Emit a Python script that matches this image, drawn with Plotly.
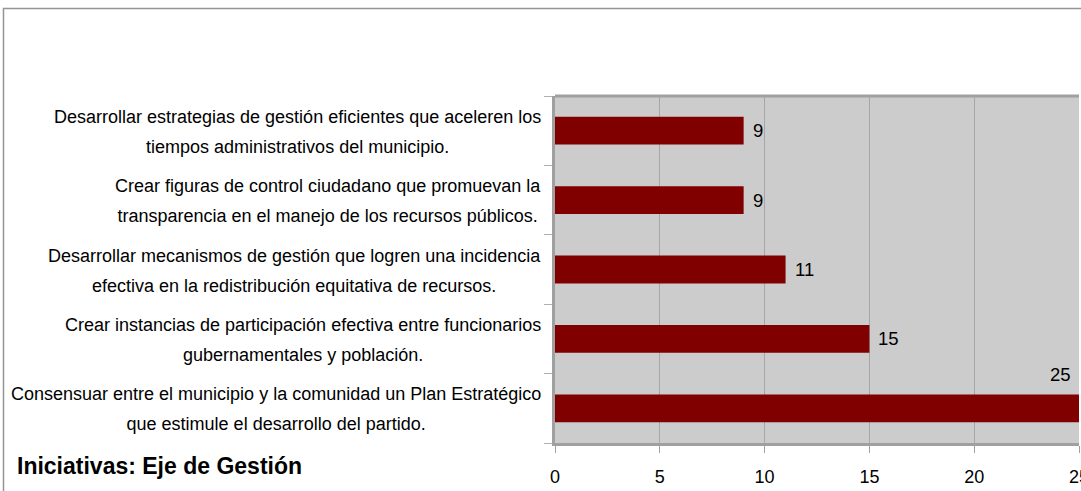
import plotly.graph_objects as go

categories = [
    "Consensuar entre el municipio y la comunidad un Plan Estratégico<br>que estimule el desarrollo del partido.",
    "Crear instancias de participación efectiva entre funcionarios<br>gubernamentales y población.",
    "Desarrollar mecanismos de gestión que logren una incidencia<br>efectiva en la redistribución equitativa de recursos.",
    "Crear figuras de control ciudadano que promuevan la<br>transparencia en el manejo de los recursos públicos.",
    "Desarrollar estrategias de gestión eficientes que aceleren los<br>tiempos administrativos del municipio.",
]
values = [25, 15, 11, 9, 9]
x_ticks = [0, 5, 10, 15, 20, 25]
title_text = "Iniciativas: Eje de Gestión"

W, H = 1081, 491
ML, MR, MT, MB = 555, 2, 96, 48
PW = W - ML - MR
PH = H - MT - MB

FONT = "Liberation Sans, Arial, sans-serif"
XMAX = max(x_ticks)
LABEL_PX = 18


def label_html(text):
    parts = text.split("<br>")
    return "<br>".join(
        "<span style='font-size:%spx'>%s</span>" % (LABEL_PX, p) for p in parts
    )


fig = go.Figure()
fig.add_trace(go.Bar(
    x=values, y=list(range(len(categories))), orientation="h",
    marker=dict(color="#800000", line=dict(width=0)),
    width=0.4, hoverinfo="skip",
))

annotations = []
for i, (c, v) in enumerate(zip(categories, values)):
    annotations.append(dict(
        x=0, xref="paper", xshift=-12, xanchor="right",
        y=i, yref="y", yanchor="middle", yshift=-1,
        text=label_html(c), align="center", showarrow=False,
        font=dict(family=FONT, size=23, color="#000000"),
    ))
    if v >= XMAX:
        annotations.append(dict(
            x=v, xref="x", y=i, yref="y", xanchor="right", xshift=-6,
            yanchor="middle", yshift=34, text=str(v), showarrow=False,
            font=dict(family=FONT, size=18.5, color="#000000"),
        ))
    else:
        annotations.append(dict(
            x=v, xref="x", y=i, yref="y", xanchor="left", xshift=7,
            yanchor="middle", text=str(v), showarrow=False,
            font=dict(family=FONT, size=18.5, color="#000000"),
        ))

annotations.append(dict(
    x=(15 - ML) / PW, xref="paper", xanchor="left",
    y=-(466 - (MT + PH)) / PH, yref="paper", yanchor="middle",
    text="<b>" + title_text + "</b>", showarrow=False,
    font=dict(family=FONT, size=23, color="#000000"),
))

fig.update_layout(
    width=W, height=H,
    margin=dict(l=ML, r=MR, t=MT, b=MB, autoexpand=False),
    paper_bgcolor="#ffffff", plot_bgcolor="#cccccc",
    showlegend=False, bargap=0.6,
    annotations=annotations,
    shapes=[
        dict(type="rect", xref="paper", yref="paper",
             x0=(3.5 - ML) / PW, x1=1.5, y0=-0.5, y1=(MT + PH - 8.5) / PH,
             line=dict(color="#959595", width=1.5), fillcolor="rgba(0,0,0,0)", layer="below"),
        dict(type="line", xref="paper", yref="paper", x0=0, x1=1, y0=1, y1=1,
             line=dict(color="#a0a0a0", width=3)),
    ],
    xaxis=dict(
        range=[0, XMAX], tickvals=x_ticks, ticktext=[str(t) for t in x_ticks],
        showgrid=True, gridcolor="#a6a6a6", gridwidth=1,
        zeroline=False, showline=True, linecolor="#a0a0a0", linewidth=3,
        ticks="outside", ticklen=7, tickcolor="#a0a0a0", tickwidth=1,
        ticklabelstandoff=8, ticklabeloverflow="allow",
        tickfont=dict(family=FONT, size=18, color="#000000"),
        fixedrange=True,
    ),
    yaxis=dict(
        range=[-0.5, len(categories) - 0.5],
        tickvals=[i - 0.5 for i in range(len(categories) + 1)],
        showticklabels=False, showgrid=False, zeroline=False,
        showline=True, linecolor="#a0a0a0", linewidth=3,
        ticks="outside", ticklen=8, tickcolor="#b0b0b0", tickwidth=1,
        fixedrange=True,
    ),
)

fig.write_html(
    "out.html",
    config={"displayModeBar": False},
    post_script="document.body.style.margin='0';document.body.style.overflow='hidden';",
)
